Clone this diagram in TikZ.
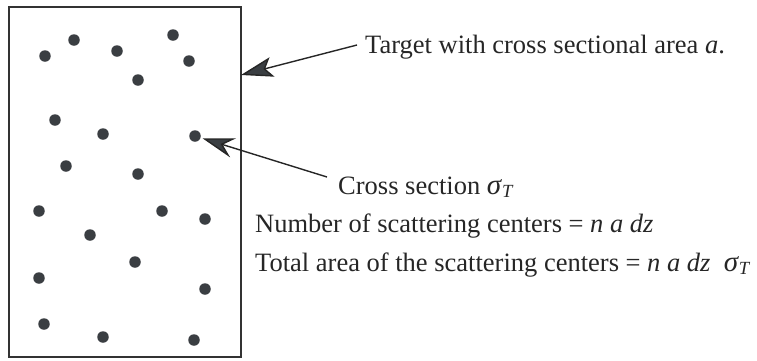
\documentclass[tikz,border=0pt]{standalone}
\usepackage{fontspec}
\setmainfont{Liberation Serif}
\usetikzlibrary{arrows.meta}
\definecolor{ink}{HTML}{3A3E42}
\newcommand{\sigT}{\textit{\fontsize{29}{30}\selectfont σ}\textsubscript{\textit{T}}}
\begin{document}
\begin{tikzpicture}[x=1pt,y=-1pt,
  dot/.style={circle,fill=ink,inner sep=0pt,minimum size=11.5pt},
  lbl/.style={anchor=base west,inner sep=0pt,font=\fontsize{26.5}{30}\selectfont,text=black!85},
  pointer/.style={draw=black!85,line width=1.4pt,
    -{Stealth[length=32pt,width=20pt,inset=#1,fill=ink]}},
  pointer/.default=11pt]
\useasboundingbox (0,0) rectangle (757,360);
% target slab
\draw[line width=1.2pt,black!80] (9,7) rectangle (241,357);
\coordinate (edge) at (241,75);
% scattering centres
\foreach \x/\y [count=\i] in {45/56,74/40,117/51,173/35,189/61,138/80,
  55/120,103/134,195/136,66/166,138/174,39/211,162/211,205/219,90/235,
  135/262,39/278,205/289,44/324,103/337,194/340}
  \node[dot] (d\i) at (\x,\y) {};
% labels
\node[lbl] (target) at (365,53) {Target with cross sectional area \textit{a}.};
\node[lbl] (cs) at (338,194) {Cross section \sigT};
\node[lbl] (num) at (255,232) {Number of scattering centers = \textit{n a dz}};
\node[lbl] (tot) at (255,271) {Total area of the scattering centers = \textit{n a dz}\ \ \sigT};
\coordinate (t0) at (357,45);
\coordinate (c0) at (327,177);
% pointers
\draw[pointer=7pt] (t0) -- (edge);
\draw[pointer,shorten >=2pt] (c0) -- (d9);
\end{tikzpicture}
\end{document}
